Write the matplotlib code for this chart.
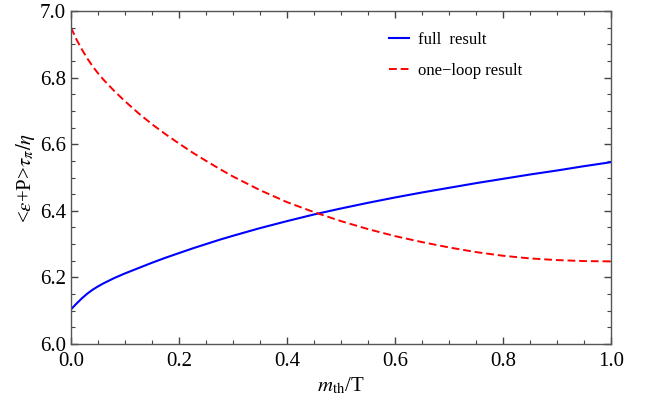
import numpy as np
import matplotlib
matplotlib.use('Agg')
import matplotlib.pyplot as plt
from matplotlib.ticker import MultipleLocator

plt.rcParams['font.family'] = ['Liberation Serif', 'DejaVu Serif']
plt.rcParams['mathtext.fontset'] = 'stix'

# values
m_th = [0.0, 0.01, 0.02, 0.03, 0.04, 0.05, 0.06, 0.08, 0.10, 0.125, 0.15, 0.175,
        0.20, 0.225, 0.25, 0.275, 0.30, 0.35, 0.40, 0.45, 0.50, 0.55, 0.60, 0.65,
        0.70, 0.75, 0.80, 0.85, 0.90, 0.95, 1.00]
full_result = [6.104, 6.121, 6.137, 6.151, 6.163, 6.173, 6.182, 6.198, 6.212, 6.228,
               6.244, 6.259, 6.273, 6.287, 6.300, 6.313, 6.325, 6.348, 6.369, 6.389,
               6.407, 6.424, 6.440, 6.455, 6.469, 6.483, 6.496, 6.509, 6.521, 6.534,
               6.546]
one_loop = [6.950, 6.915, 6.885, 6.858, 6.834, 6.813, 6.794, 6.760, 6.729, 6.693,
            6.660, 6.630, 6.602, 6.575, 6.550, 6.526, 6.503, 6.462, 6.426, 6.396,
            6.369, 6.345, 6.324, 6.306, 6.290, 6.276, 6.265, 6.257, 6.252, 6.249,
            6.248]

fig = plt.figure(figsize=(6.47, 4.04), dpi=100)
ax = fig.add_axes([71/647, 1-344/404, 540/647, 333/404])

ax.plot(m_th, full_result, color='#0000ff', lw=1.5, label='full  result')
ax.plot(m_th, one_loop, color='#ff0000', lw=1.4, dashes=(4, 2), label='one\u2212loop result')

ax.set_xlim(0, 1)
ax.set_ylim(6.0, 7.0)
ax.xaxis.set_major_locator(MultipleLocator(0.2))
ax.xaxis.set_minor_locator(MultipleLocator(0.05))
ax.yaxis.set_major_locator(MultipleLocator(0.2))
ax.yaxis.set_minor_locator(MultipleLocator(0.05))
ax.xaxis.set_major_formatter(lambda v, p: f'{v:.1f}')
ax.yaxis.set_major_formatter(lambda v, p: f'{v:.1f}')
ax.tick_params(which='both', direction='in', top=True, right=True, color='#444444',
               labelsize=15, labelcolor='black')
ax.tick_params(which='major', length=5, width=1)
ax.tick_params(which='minor', length=3, width=0.8)
ax.tick_params(axis='x', which='major', pad=6)
for s in ax.spines.values():
    s.set_color('#555555')
    s.set_linewidth(1.0)

ax.set_xlabel(r'$m_{\rm th}$/T', fontsize=15, labelpad=3)
ax.set_ylabel(r'<$\epsilon$+P>$\tau_\pi/\eta$', fontsize=15, labelpad=2)

ax.legend(loc='upper left', bbox_to_anchor=(389/647, 1-32/404), bbox_transform=fig.transFigure,
          frameon=False, fontsize=12, handlelength=1.2, handletextpad=0.55,
          labelspacing=0.9, borderpad=0, borderaxespad=0)

fig.savefig('out.png', dpi=100)
